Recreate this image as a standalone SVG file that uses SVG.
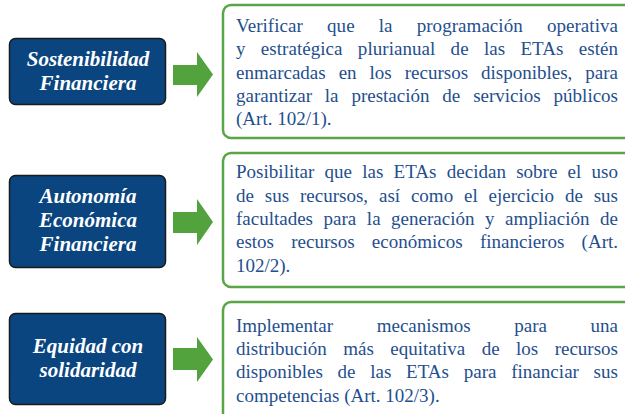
<svg xmlns="http://www.w3.org/2000/svg" width="625" height="414" viewBox="0 0 625 414">
<style>
.lbl{fill:#0A4580;stroke:#1a1a1a;stroke-width:1.5}
.lt{font-family:"Liberation Serif",serif;font-weight:bold;font-style:italic;font-size:21px;fill:#fff;text-anchor:middle}
.box{fill:#fff;stroke:#5AA547;stroke-width:2.5}
.bt{font-family:"Liberation Serif",serif;font-size:19px;fill:#1F4F8E}
.arr{fill:#52A23E}
</style>
<rect width="625" height="414" fill="#fff"/>
<g id="node-sostenibilidad">
<rect class="lbl" x="9.5" y="38.5" width="156" height="66" rx="6"/>
<text class="lt" x="88" y="66">Sostenibilidad</text>
<text class="lt" x="88" y="90">Financiera</text>
</g>
<g id="node-autonomia">
<rect class="lbl" x="9.5" y="175.5" width="156" height="92" rx="6"/>
<text class="lt" x="88" y="203">Autonomía</text>
<text class="lt" x="88" y="227">Económica</text>
<text class="lt" x="88" y="251">Financiera</text>
</g>
<g id="node-equidad">
<rect class="lbl" x="9.5" y="313.5" width="156" height="91" rx="6"/>
<text class="lt" x="88" y="353">Equidad con</text>
<text class="lt" x="88" y="377">solidaridad</text>
</g>
<g id="node-desc1">
<rect class="box" x="223" y="5" width="430" height="133" rx="8"/>
<text class="bt" x="236" y="32" word-spacing="19.3" textLength="382" lengthAdjust="spacing">Verificar que la programación operativa</text>
<text class="bt" x="236" y="55" word-spacing="10.5" textLength="382" lengthAdjust="spacing">y estratégica plurianual de las ETAs estén</text>
<text class="bt" x="236" y="79" word-spacing="8.2" textLength="382" lengthAdjust="spacing">enmarcadas en los recursos disponibles, para</text>
<text class="bt" x="236" y="102" word-spacing="8.1" textLength="382" lengthAdjust="spacing">garantizar la prestación de servicios públicos</text>
<text class="bt" x="236" y="125">(Art. 102/1).</text>
</g>
<g id="node-desc2">
<rect class="box" x="223" y="153" width="430" height="134" rx="8"/>
<text class="bt" x="236" y="178" word-spacing="5.4" textLength="382" lengthAdjust="spacing">Posibilitar que las ETAs decidan sobre el uso</text>
<text class="bt" x="236" y="202" word-spacing="6.1" textLength="382" lengthAdjust="spacing">de sus recursos, así como el ejercicio de sus</text>
<text class="bt" x="236" y="225" word-spacing="5.8" textLength="382" lengthAdjust="spacing">facultades para la generación y ampliación de</text>
<text class="bt" x="236" y="248" word-spacing="12.5" textLength="382" lengthAdjust="spacing">estos recursos económicos financieros (Art.</text>
<text class="bt" x="236" y="272">102/2).</text>
</g>
<g id="node-desc3">
<rect class="box" x="223" y="302" width="430" height="130" rx="8"/>
<text class="bt" x="236" y="332" word-spacing="38.9" textLength="382" lengthAdjust="spacing">Implementar mecanismos para una</text>
<text class="bt" x="236" y="355" word-spacing="11.7" textLength="382" lengthAdjust="spacing">distribución más equitativa de los recursos</text>
<text class="bt" x="236" y="378" word-spacing="9.85" textLength="382" lengthAdjust="spacing">disponibles de las ETAs para financiar sus</text>
<text class="bt" x="236" y="402">competencias (Art. 102/3).</text>
</g>
<g id="connectors">
<polygon class="arr" points="173,65 197,65 197,52 213,74.5 197,97 197,85 173,85"/>
<polygon class="arr" points="173,212 197,212 197,199 213,222 197,245 197,233 173,233"/>
<polygon class="arr" points="173,348 197,348 197,337 213,359.5 197,382 197,370 173,370"/>
</g>
</svg>
